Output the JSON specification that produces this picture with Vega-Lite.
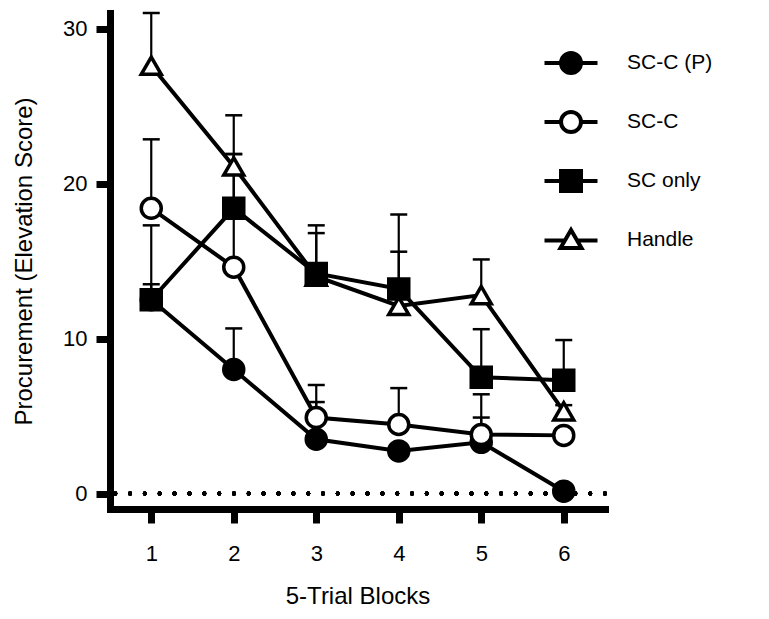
{
  "$schema": "https://vega.github.io/schema/vega-lite/v6.json",
  "width": 495,
  "height": 496,
  "autosize": {"type": "none"},
  "padding": {"left": 110, "top": 13, "right": 164, "bottom": 110},
  "background": "white",
  "config": {
    "view": {"stroke": null},
    "font": "Liberation Sans",
    "axis": {
      "grid": false,
      "domainColor": "black",
      "domainWidth": 7,
      "domainCap": "square",
      "tickColor": "black",
      "tickWidth": 7,
      "tickSize": 14,
      "labelColor": "black",
      "labelFontSize": 22,
      "titleColor": "black",
      "titleFontSize": 24,
      "titleFontWeight": "normal"
    }
  },
  "resolve": {"scale": {"shape": "independent", "fill": "independent"}},
  "data": {
    "values": [
      {"block": 1, "group": "Handle", "mean": 27.6, "upper": 31.0},
      {"block": 2, "group": "Handle", "mean": 21.1, "upper": 24.4},
      {"block": 3, "group": "Handle", "mean": 14.0, "upper": 16.8},
      {"block": 4, "group": "Handle", "mean": 12.1, "upper": 15.6},
      {"block": 5, "group": "Handle", "mean": 12.8, "upper": 15.1},
      {"block": 6, "group": "Handle", "mean": 5.3, "upper": 5.7},
      {"block": 1, "group": "SC-C (P)", "mean": 12.5, "upper": 13.5},
      {"block": 2, "group": "SC-C (P)", "mean": 8.0, "upper": 10.65},
      {"block": 3, "group": "SC-C (P)", "mean": 3.5, "upper": 5.9},
      {"block": 4, "group": "SC-C (P)", "mean": 2.75, "upper": 2.75},
      {"block": 5, "group": "SC-C (P)", "mean": 3.3, "upper": 4.9},
      {"block": 6, "group": "SC-C (P)", "mean": 0.15, "upper": 0.15},
      {"block": 1, "group": "SC-C", "mean": 18.4, "upper": 22.85},
      {"block": 2, "group": "SC-C", "mean": 14.6, "upper": 21.9},
      {"block": 3, "group": "SC-C", "mean": 4.9, "upper": 7.0},
      {"block": 4, "group": "SC-C", "mean": 4.45, "upper": 6.8},
      {"block": 5, "group": "SC-C", "mean": 3.8, "upper": 6.4},
      {"block": 6, "group": "SC-C", "mean": 3.75, "upper": 3.75},
      {"block": 1, "group": "SC only", "mean": 12.5, "upper": 17.3},
      {"block": 2, "group": "SC only", "mean": 18.4, "upper": 21.9},
      {"block": 3, "group": "SC only", "mean": 14.2, "upper": 17.3},
      {"block": 4, "group": "SC only", "mean": 13.2, "upper": 18.0},
      {"block": 5, "group": "SC only", "mean": 7.5, "upper": 10.6},
      {"block": 6, "group": "SC only", "mean": 7.3, "upper": 9.9}
    ]
  },
  "layer": [
    {
      "mark": {"type": "rule", "color": "black", "strokeWidth": 4, "strokeCap": "round", "strokeDash": [0.1, 14.74]},
      "encoding": {
        "y": {"datum": 0, "type": "quantitative", "scale": {"domain": [-1, 31], "nice": false, "zero": false},
          "axis": {
            "values": [0, 10, 20, 30],
            "format": "d",
            "title": "Procurement (Elevation Score)",
            "labelPadding": 9,
            "titlePadding": 26
          }}
      }
    },
    {
      "transform": [{"filter": "datum.upper > datum.mean"}],
      "mark": {"type": "rule", "color": "black", "strokeWidth": 2.2},
      "encoding": {
        "x": {
          "field": "block",
          "type": "quantitative",
          "scale": {"domain": [0.5, 6.5], "nice": false, "zero": false},
          "axis": {
            "values": [1, 2, 3, 4, 5, 6],
            "format": "d",
            "title": "5-Trial Blocks",
            "labelPadding": 20,
            "titlePadding": 20,
            "labelFlush": false
          }
        },
        "y": {"field": "mean", "type": "quantitative"},
        "y2": {"field": "upper"}
      }
    },
    {
      "transform": [{"filter": "datum.upper > datum.mean"}],
      "mark": {"type": "tick", "orient": "horizontal", "color": "black", "size": 17, "thickness": 2.5, "opacity": 1},
      "encoding": {
        "x": {"field": "block", "type": "quantitative"},
        "y": {"field": "upper", "type": "quantitative"}
      }
    },
    {
      "mark": {"type": "line", "color": "black", "strokeWidth": 4},
      "encoding": {
        "x": {"field": "block", "type": "quantitative"},
        "y": {"field": "mean", "type": "quantitative"},
        "detail": {"field": "group", "type": "nominal"}
      }
    },
    {
      "mark": {"type": "point", "filled": true, "size": 400, "stroke": "black", "strokeWidth": 3.5, "opacity": 1},
      "encoding": {
        "x": {"field": "block", "type": "quantitative"},
        "y": {"field": "mean", "type": "quantitative"},
        "shape": {
          "field": "group",
          "type": "nominal",
          "scale": {"domain": ["SC-C (P)", "SC-C", "SC only", "Handle"], "range": ["circle", "circle", "square", "triangle-up"]},
          "legend": null
        },
        "fill": {
          "field": "group",
          "type": "nominal",
          "scale": {"domain": ["SC-C (P)", "SC-C", "SC only", "Handle"], "range": ["black", "white", "black", "white"]},
          "legend": null
        }
      }
    },
    {
      "mark": {"type": "point", "filled": true, "size": 400, "stroke": "black", "strokeWidth": 4, "opacity": 0},
      "encoding": {
        "x": {"field": "block", "type": "quantitative"},
        "y": {"field": "mean", "type": "quantitative"},
        "shape": {
          "field": "group",
          "type": "nominal",
          "scale": {
            "domain": ["SC-C (P)", "SC-C", "SC only", "Handle"],
            "range": [
              "M-2.65,0H-1M1,0H2.65M-1,0A1,1,0,1,0,1,0A1,1,0,1,0,-1,0Z",
              "M-2.65,0H-1M1,0H2.65M-1,0A1,1,0,1,0,1,0A1,1,0,1,0,-1,0Z",
              "M-2.65,0H-1M1,0H2.65M-1,-1H1V1H-1Z",
              "M-2.65,0.05H-0.6M0.6,0.05H2.65M0,-1L-1.05,0.8H1.05Z"
            ]
          },
          "legend": {
            "title": null,
            "orient": "none",
            "legendX": 449,
            "legendY": 38,
            "padding": 0,
            "symbolSize": 400,
            "symbolStrokeWidth": 4,
            "symbolOpacity": 1,
            "labelFont": "Liberation Sans",
            "labelFontSize": 21,
            "labelColor": "black",
            "labelOffset": 44,
            "rowPadding": 23
          }
        },
        "fill": {
          "field": "group",
          "type": "nominal",
          "scale": {"domain": ["SC-C (P)", "SC-C", "SC only", "Handle"], "range": ["black", "white", "black", "white"]},
          "legend": null
        }
      }
    }
  ]
}
